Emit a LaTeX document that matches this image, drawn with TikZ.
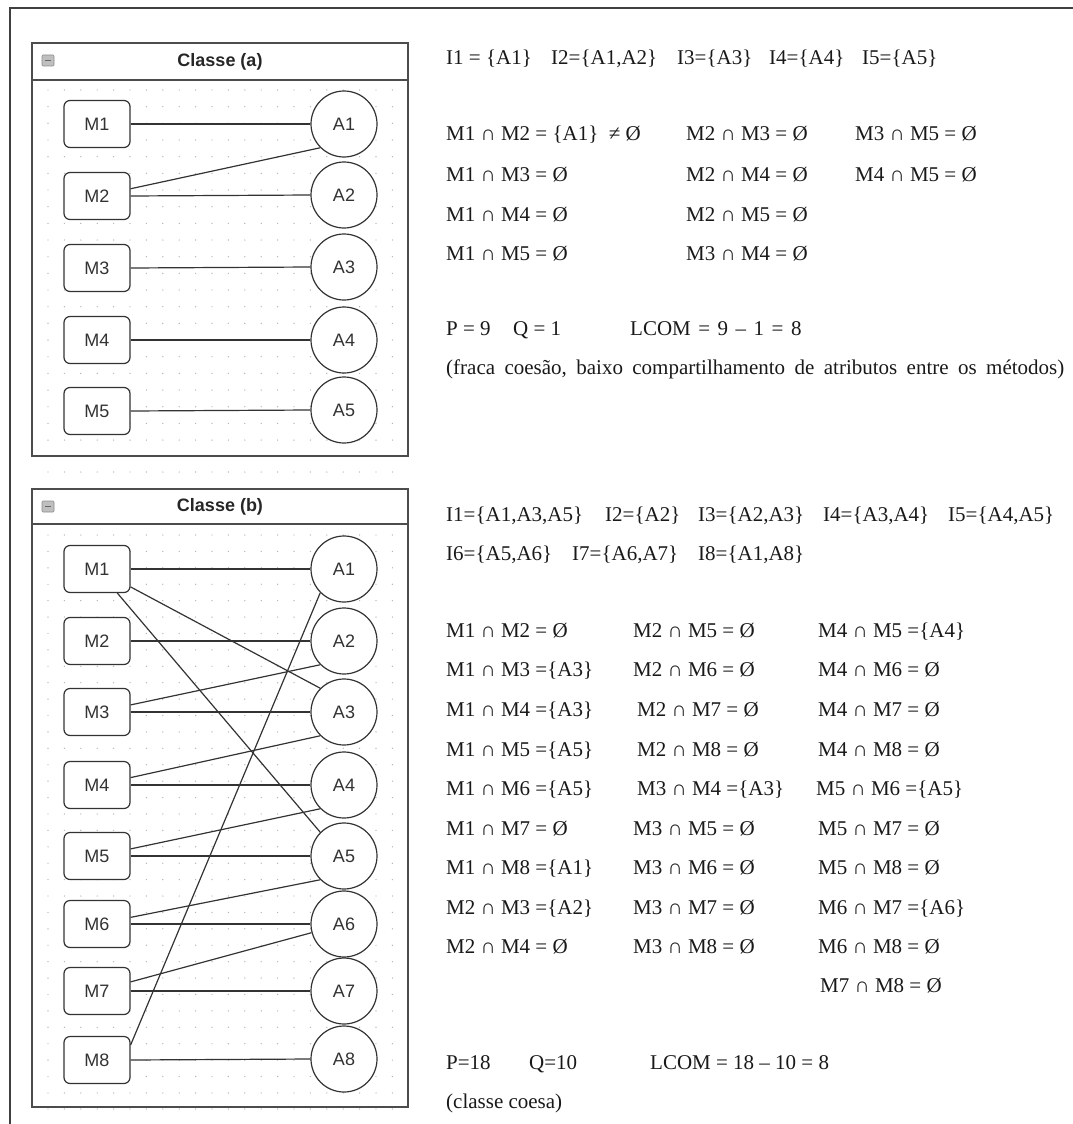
\documentclass[tikz,border=0pt]{standalone}
\usepackage{fontspec}
\setmainfont{Liberation Serif}
\setsansfont{Liberation Sans}
\newcommand\tx[4]{\node[txt] (#1) at (#2,#3) {#4};}
\begin{document}
\begin{tikzpicture}[x=1pt,y=-1pt,
  panel/.style={draw=black!70,line width=1.3pt},
  frame/.style={draw=black!75,line width=1.6pt},
  mbox/.style={draw=black!80,fill=white,rounded corners=6pt,line width=1.2pt,minimum width=66pt,minimum height=47pt,inner sep=0pt,font=\sffamily\fontsize{18}{18}\selectfont,text=black!80},
  attr/.style={draw=black!80,fill=white,circle,line width=1.2pt,minimum size=66pt,inner sep=0pt,font=\sffamily\fontsize{18}{18}\selectfont,text=black!80},
  link/.style={draw=black!80,line width=1.2pt},
  title/.style={font=\sffamily\bfseries\fontsize{18}{18}\selectfont,text=black!85,inner sep=0pt},
  txt/.style={anchor=base west,inner sep=0pt,font=\fontsize{21}{21}\selectfont,text=black!90},
  griddot/.style={fill=black!30}]
\useasboundingbox (0,0) rectangle (1073,1124);
% outer frame
\draw[frame] (10,1124) -- (10,8) -- (1073,8);
% grid dots
\foreach \i in {0,...,21}{
  \foreach \j in {0,...,21}{\fill[griddot] (48+16.4*\i,90+16.67*\j) circle (0.7);}
  \fill[griddot] (48+16.4*\i,472) circle (0.7);
  \foreach \j in {0,...,34}{\fill[griddot] (48+16.4*\i,535+16.41*\j) circle (0.7);}
  \fill[griddot] (48+16.4*\i,1109) circle (0.7);
}
% panel (a)
\draw[panel] (32,43) rectangle (408,456);
\draw[panel] (32,80) -- (408,80);
\draw[draw=black!45,fill=black!25,rounded corners=1pt,line width=0.6pt] (42,55) rectangle (54,66);
\draw[black!60,line width=0.8pt] (45,60.5) -- (51,60.5);
\node[title] (ta) at (220,62) {Classe (a)};
\foreach \i/\y in {1/124,2/196,3/268,4/340,5/411}{\node[mbox] (aM\i) at (97,\y) {M\i};}
\foreach \i/\y in {1/124,2/195,3/267,4/340,5/410}{\node[attr] (aA\i) at (344,\y) {A\i};}
\draw[link] (aM1.east) -- (aA1.west);
\draw[link] (aM2) -- (aA1.south west);
\draw[link] (aM2.east) -- (aA2.west);
\draw[link] (aM3.east) -- (aA3.west);
\draw[link] (aM4.east) -- (aA4.west);
\draw[link] (aM5.east) -- (aA5.west);
% panel (b)
\draw[panel] (32,489) rectangle (408,1107);
\draw[panel] (32,524) -- (408,524);
\draw[draw=black!45,fill=black!25,rounded corners=1pt,line width=0.6pt] (42,501) rectangle (54,512);
\draw[black!60,line width=0.8pt] (45,506.5) -- (51,506.5);
\node[title] (tb) at (220,507) {Classe (b)};
\foreach \i/\y in {1/569,2/641,3/712,4/785,5/856,6/924,7/991,8/1060}{\node[mbox] (bM\i) at (97,\y) {M\i};}
\foreach \i/\y in {1/569,2/641,3/712,4/785,5/856,6/924,7/991,8/1059}{\node[attr] (bA\i) at (344,\y) {A\i};}
\draw[link] (bM1.east) -- (bA1.west);
\draw[link] (bM1) -- (bA3.north west);
\draw[link] (bM1) -- (bA5.north west);
\draw[link] (bM2.east) -- (bA2.west);
\draw[link] (bM3) -- (bA2.south west);
\draw[link] (bM3.east) -- (bA3.west);
\draw[link] (bM4) -- (bA3.south west);
\draw[link] (bM4.east) -- (bA4.west);
\draw[link] (bM5) -- (bA4.south west);
\draw[link] (bM5.east) -- (bA5.west);
\draw[link] (bM6) -- (bA5.south west);
\draw[link] (bM6.east) -- (bA6.west);
\draw[link] (bM7) -- (bA6.195);
\draw[link] (bM7.east) -- (bA7.west);
\draw[link] (bM8.24) -- (bA1.south west);
\draw[link] (bM8.east) -- (bA8.west);
% texts (a)
\tx{ia1}{446}{65}{I1 = \{A1\}}
\tx{ia2}{551}{65}{I2=\{A1,A2\}}
\tx{ia3}{677}{65}{I3=\{A3\}}
\tx{ia4}{769}{65}{I4=\{A4\}}
\tx{ia5}{862}{65}{I5=\{A5\}}
\tx{xa11}{446}{140}{M1 ∩ M2 = \{A1\}\ \ ≠ Ø}
\tx{xa12}{686}{140}{M2 ∩ M3 = Ø}
\tx{xa13}{855}{140}{M3 ∩ M5 = Ø}
\tx{xa21}{446}{181}{M1 ∩ M3 = Ø}
\tx{xa22}{686}{181}{M2 ∩ M4 = Ø}
\tx{xa23}{855}{181}{M4 ∩ M5 = Ø}
\tx{xa31}{446}{221}{M1 ∩ M4 = Ø}
\tx{xa32}{686}{221}{M2 ∩ M5 = Ø}
\tx{xa41}{446}{260}{M1 ∩ M5 = Ø}
\tx{xa42}{686}{260}{M3 ∩ M4 = Ø}
\tx{pa}{446}{335}{P = 9}
\tx{qa}{513}{335}{Q = 1}
\tx{la}{630}{335}{\spaceskip=7.5pt LCOM = 9 – 1 = 8}
\tx{ca}{446}{374}{\spaceskip=9.4pt(fraca coesão, baixo compartilhamento de atributos entre os métodos)}
% texts (b)
\tx{ib1}{446}{521}{I1=\{A1,A3,A5\}}
\tx{ib2}{605}{521}{I2=\{A2\}}
\tx{ib3}{698}{521}{I3=\{A2,A3\}}
\tx{ib4}{823}{521}{I4=\{A3,A4\}}
\tx{ib5}{948}{521}{I5=\{A4,A5\}}
\tx{ib6}{446}{560}{I6=\{A5,A6\}}
\tx{ib7}{572}{560}{I7=\{A6,A7\}}
\tx{ib8}{698}{560}{I8=\{A1,A8\}}
\tx{xb11}{446}{637}{M1 ∩ M2 = Ø}
\tx{xb12}{633}{637}{M2 ∩ M5 = Ø}
\tx{xb13}{818}{637}{M4 ∩ M5 =\{A4\}}
\tx{xb21}{446}{676}{M1 ∩ M3 =\{A3\}}
\tx{xb22}{633}{676}{M2 ∩ M6 = Ø}
\tx{xb23}{818}{676}{M4 ∩ M6 = Ø}
\tx{xb31}{446}{716}{M1 ∩ M4 =\{A3\}}
\tx{xb32}{637}{716}{M2 ∩ M7 = Ø}
\tx{xb33}{818}{716}{M4 ∩ M7 = Ø}
\tx{xb41}{446}{756}{M1 ∩ M5 =\{A5\}}
\tx{xb42}{637}{756}{M2 ∩ M8 = Ø}
\tx{xb43}{818}{756}{M4 ∩ M8 = Ø}
\tx{xb51}{446}{795}{M1 ∩ M6 =\{A5\}}
\tx{xb52}{637}{795}{M3 ∩ M4 =\{A3\}}
\tx{xb53}{816}{795}{M5 ∩ M6 =\{A5\}}
\tx{xb61}{446}{835}{M1 ∩ M7 = Ø}
\tx{xb62}{633}{835}{M3 ∩ M5 = Ø}
\tx{xb63}{818}{835}{M5 ∩ M7 = Ø}
\tx{xb71}{446}{874}{M1 ∩ M8 =\{A1\}}
\tx{xb72}{633}{874}{M3 ∩ M6 = Ø}
\tx{xb73}{818}{874}{M5 ∩ M8 = Ø}
\tx{xb81}{446}{914}{M2 ∩ M3 =\{A2\}}
\tx{xb82}{633}{914}{M3 ∩ M7 = Ø}
\tx{xb83}{818}{914}{M6 ∩ M7 =\{A6\}}
\tx{xb91}{446}{953}{M2 ∩ M4 = Ø}
\tx{xb92}{633}{953}{M3 ∩ M8 = Ø}
\tx{xb93}{818}{953}{M6 ∩ M8 = Ø}
\tx{xb03}{820}{992}{M7 ∩ M8 = Ø}
\tx{pb}{446}{1069}{P=18}
\tx{qb}{529}{1069}{Q=10}
\tx{lb}{650}{1069}{LCOM = 18 – 10 = 8}
\tx{cb}{446}{1108}{(classe coesa)}
\end{tikzpicture}
\end{document}
